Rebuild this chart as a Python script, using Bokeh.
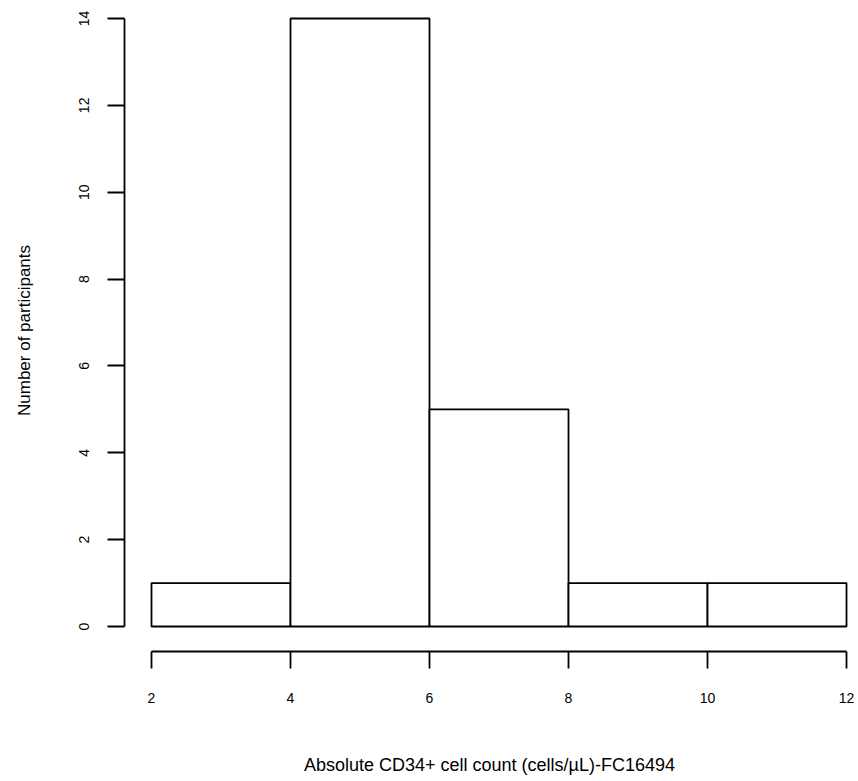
from bokeh.plotting import figure
from bokeh.models import Range1d, FixedTicker
from bokeh.embed import file_html
from bokeh.resources import INLINE

# Histogram data
bin_left = [2, 4, 6, 8, 10]
bin_right = [4, 6, 8, 10, 12]
counts = [1, 14, 5, 1, 1]
x_ticks = [2, 4, 6, 8, 10, 12]
y_ticks = [0, 2, 4, 6, 8, 10, 12, 14]
x_title = "Absolute CD34+ cell count (cells/\u00b5L)-FC16494"
y_title = "Number of participants"

FONT = "Liberation Sans"

p = figure(
    frame_width=730, frame_height=642,
    x_range=Range1d(1.6115, 12.115), y_range=Range1d(-0.5756, 14.207),
    output_backend="svg", toolbar_location=None,
    min_border_left=124, min_border_top=9, min_border_right=2, min_border_bottom=120,
)
p.outline_line_color = None
p.grid.visible = False
p.background_fill_color = "white"
p.border_fill_color = "white"

p.quad(left=bin_left, right=bin_right, bottom=0, top=counts,
       fill_color="white", line_color="black", line_width=1.8)

for ax in (p.xaxis[0], p.yaxis[0]):
    ax.axis_line_width = 1.8
    ax.major_tick_line_width = 1.8
    ax.major_tick_out = 17
    ax.major_tick_in = 0
    ax.minor_tick_out = 0
    ax.minor_tick_in = 0
    ax.major_label_text_font = FONT
    ax.major_label_text_font_size = "14px"
    ax.major_label_text_color = "black"
    ax.axis_label_text_font = FONT
    ax.axis_label_text_font_style = "normal"
    ax.axis_label_text_color = "black"

p.xaxis[0].ticker = FixedTicker(ticks=x_ticks)
p.xaxis[0].bounds = (2, 12)
p.xaxis[0].major_label_standoff = 24
p.xaxis[0].axis_label = x_title
p.xaxis[0].axis_label_text_font_size = "18px"
p.xaxis[0].axis_label_standoff = 49

p.yaxis[0].ticker = FixedTicker(ticks=y_ticks)
p.yaxis[0].bounds = (0, 14)
p.yaxis[0].major_label_orientation = "vertical"
p.yaxis[0].major_label_standoff = 18
p.yaxis[0].axis_label = y_title
p.yaxis[0].axis_label_text_font_size = "17px"
p.yaxis[0].axis_label_standoff = 43

open("out.html", "w").write(file_html(p, INLINE))
